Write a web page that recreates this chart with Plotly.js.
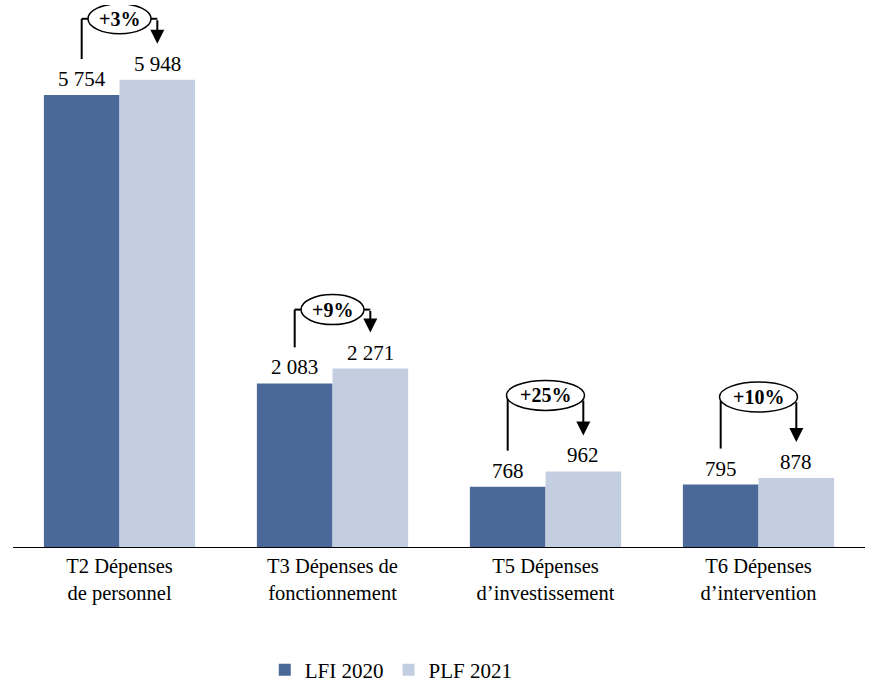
<!DOCTYPE html>
<html><head><meta charset="utf-8">
<script src="https://cdn.plot.ly/plotly-3.0.1.min.js"></script>
<style>html,body{margin:0;padding:0;background:#fff}</style>
</head><body><div id="chart" style="width:876px;height:696px"></div>
<script>
// ---- data ----
const categories = ['T2 Dépenses<br>de personnel', 'T3 Dépenses de<br>fonctionnement', 'T5 Dépenses<br>d’investissement', 'T6 Dépenses<br>d’intervention'];
const lfi2020 = [5754, 2083, 768, 795];
const plf2021 = [5948, 2271, 962, 878];
const changeLabels = ['+3%', '+9%', '+25%', '+10%'];
const seriesNames = ['LFI 2020', 'PLF 2021'];

// ---- layout constants ----
const W = 876, H = 696, M = {l: 13, r: 11, t: 5, b: 149};
const plotH = H - M.t - M.b, plotW = W - M.l - M.r;
const YMAX = 6900;
const BARGAP = 0.29;
const uY = YMAX / plotH;               // y data units per px
const uX = categories.length / plotW;  // category units per px
const half = (1 - BARGAP) / 4;         // bar centre offset from category centre
const ovalLift = [61, 59, 76, 81];     // px of oval centre above the taller bar
const stemGap = 36;                    // px between bar top and connector end
const ovalRy = 15;                     // px
const FONT = 'Liberation Serif, Times New Roman, serif';
const FS = 21;
const darkCol = '#4A6999', lightCol = '#C4CEE1';

function fmt(v) { return String(v).replace(/\B(?=(\d{3})+(?!\d))/g, ' '); }

const idx = categories.map((c, i) => i);
const traces = [
  {type: 'bar', name: seriesNames[0], x: idx, y: lfi2020, marker: {color: darkCol}, hoverinfo: 'none'},
  {type: 'bar', name: seriesNames[1], x: idx, y: plf2021, marker: {color: lightCol}, hoverinfo: 'none'}
];

const shapes = [], annotations = [];
const lineStyle = {color: '#000', width: 2};
idx.forEach(i => {
  const xd = i - half, xl = i + half;
  const yOval = Math.max(lfi2020[i], plf2021[i]) + ovalLift[i] * uY;
  const rx = (9 + 7.5 * changeLabels[i].length) * uX;
  const ry = ovalRy * uY;
  const edgeY = x => {
    const t = (x - i) / rx;
    return Math.abs(t) < 1 ? yOval - ry * Math.sqrt(1 - t * t) : yOval;
  };
  // left stem
  const yStemBottom = lfi2020[i] + stemGap * uY;
  shapes.push({type: 'line', xref: 'x', yref: 'y', x0: xd, x1: xd, y0: yStemBottom, y1: edgeY(xd), line: lineStyle});
  if (xd < i - rx) shapes.push({type: 'line', xref: 'x', yref: 'y', x0: xd, x1: i - rx, y0: yOval, y1: yOval, line: lineStyle});
  if (xl > i + rx) shapes.push({type: 'line', xref: 'x', yref: 'y', x0: i + rx, x1: xl, y0: yOval, y1: yOval, line: lineStyle});
  // oval
  shapes.push({type: 'circle', xref: 'x', yref: 'y', x0: i - rx, x1: i + rx, y0: yOval - ry, y1: yOval + ry,
    fillcolor: '#fff', line: {color: '#000', width: 1.5}, layer: 'above'});
  annotations.push({x: i, y: yOval, xref: 'x', yref: 'y', text: '<b>' + changeLabels[i] + '</b>', showarrow: false,
    font: {family: FONT, size: 20, color: '#000'}});
  // arrow down to PLF bar
  annotations.push({x: xl, y: plf2021[i] + stemGap * uY, ax: xl, ay: edgeY(xl), axref: 'x', ayref: 'y', xref: 'x', yref: 'y',
    text: '', showarrow: true, arrowhead: 2, arrowsize: 1.4, arrowwidth: 2, arrowcolor: '#000', standoff: 0, startstandoff: 0});
  // value labels
  annotations.push({x: xd, y: lfi2020[i], xref: 'x', yref: 'y', text: fmt(lfi2020[i]), showarrow: false, yanchor: 'bottom', yshift: 2,
    font: {family: FONT, size: FS, color: '#000'}});
  annotations.push({x: xl, y: plf2021[i], xref: 'x', yref: 'y', text: fmt(plf2021[i]), showarrow: false, yanchor: 'bottom', yshift: 2,
    font: {family: FONT, size: FS, color: '#000'}});
});

const layout = {
  width: W, height: H, margin: M,
  paper_bgcolor: '#fff', plot_bgcolor: '#fff',
  barmode: 'group', bargap: BARGAP, bargroupgap: 0,
  font: {family: FONT, size: FS, color: '#000'},
  xaxis: {type: 'linear', range: [-0.5, categories.length - 0.5], tickvals: idx, ticktext: categories,
    showgrid: false, zeroline: false, showline: true, linecolor: '#000', linewidth: 1.3, ticks: '',
    tickfont: {family: FONT, size: 20.5, color: '#000'}, fixedrange: true},
  yaxis: {range: [0, YMAX], visible: false, showgrid: false, zeroline: false, fixedrange: true},
  showlegend: true,
  legend: {orientation: 'h', x: 0.444, xanchor: 'center', y: -0.227, yanchor: 'middle', font: {family: FONT, size: FS, color: '#000'},
    traceorder: 'normal'},
  shapes: shapes, annotations: annotations
};

Plotly.newPlot('chart', traces, layout, {displayModeBar: false, staticPlot: true});
</script></body></html>
